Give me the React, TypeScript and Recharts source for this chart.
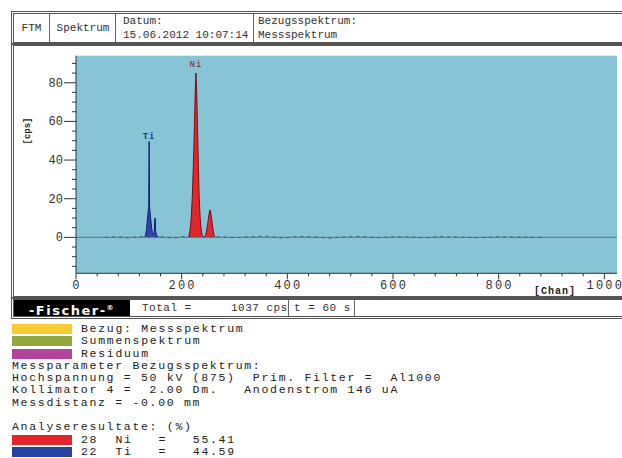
import React from 'react';
import {
  ComposedChart,
  Area,
  Line,
  XAxis,
  YAxis,
  CartesianGrid,
  ReferenceLine,
  ReferenceDot,
} from 'recharts';

// spectrum (channel -> counts per second)
const tiChannels = [129, 131.5, 133.5, 135, 136.5, 137.6, 138.4, 139.2, 140.5, 142, 143.5, 145, 146.5, 148, 149.3, 150, 150.8, 152.5, 155, 158];
const tiCounts = [0, 1, 4, 9, 13, 16, 49.5, 16, 12, 8, 4, 2, 1.5, 2.5, 9.5, 10, 3, 1, 0.5, 0];

const niChannels = [212, 214, 216, 218, 220, 222, 224, 225.5, 227, 228.5, 230, 231.5, 233, 235, 237, 239, 242, 245, 247, 249, 251, 252.5, 253.7, 255, 257, 259, 261, 263];
const niCounts = [0, 1, 4, 10, 20, 36, 56, 74, 85, 74, 56, 38, 22, 10, 4, 0.5, 0, 1, 3, 6.5, 10.5, 13, 14.2, 13, 9, 4.5, 1.5, 0];

const noiseChannels = [55, 80, 100, 120, 165, 185, 205, 270, 300, 330, 360, 390, 420, 450, 480, 510, 540, 570, 600, 630, 660, 690, 720, 760, 800, 840, 880];
const noiseCounts = [0, 0.3, -0.3, 0.4, 0.2, -0.4, 0.5, 0.3, -0.2, 0.4, 0.6, -0.3, 0.5, 0.2, -0.4, 0.3, 0.5, -0.2, 0.3, 0.2, -0.3, 0.4, 0.2, -0.2, 0.3, 0.1, 0];

const xTicks = [0, 40, 80, 120, 160, 200, 240, 280, 320, 360, 400, 440, 480, 520, 560, 600, 640, 680, 720, 760, 800, 840, 880, 920, 960, 1000];
const xLabels = [0, 200, 400, 600, 800, 1000];
const yTicks = [-15, -10, -5, 0, 5, 10, 15, 20, 25, 30, 35, 40, 45, 50, 55, 60, 65, 70, 75, 80, 85, 90];
const yLabels = [0, 20, 40, 60, 80];

const legendNames = ['Bezug: Messspektrum', 'Summenspektrum', 'Residuum'];
const legendColors = ['#f7c933', '#92a83c', '#b2449c'];

const paramLines = [
  'Messparameter Bezugsspektrum:',
  'Hochspannung = 50 kV (875)  Prim. Filter =  Al1000',
  'Kollimator 4 =  2.00 Dm.   Anodenstrom 146 uA',
  'Messdistanz = -0.00 mm',
];

const resultRows = ['28  Ni   =   55.41', '22  Ti   =   44.59'];
const resultColors = ['#e3232a', '#2743a2'];

const tiData = tiChannels.map((ch, i) => ({ ch, cps: tiCounts[i] }));
const niData = niChannels.map((ch, i) => ({ ch, cps: niCounts[i] }));
const noiseData = noiseChannels.map((ch, i) => ({ ch, cps: noiseCounts[i] }));

const mono = '"Liberation Mono", "DejaVu Sans Mono", monospace';
const frame = '3px double #555';

const YTick = ({ x, y, payload }: any) => {
  const major = yLabels.includes(payload.value);
  return (
    <g>
      <line x1={x - (major ? 12 : 4)} x2={x} y1={y} y2={y} stroke="#333" />
      {major && (
        <text x={x - 13} y={y} dy={4} textAnchor="end" fontFamily={mono} fontSize={12} fill="#333">
          {payload.value}
        </text>
      )}
    </g>
  );
};

const XTick = ({ x, y, payload }: any) => {
  const major = xLabels.includes(payload.value);
  return (
    <g>
      <line x1={x} x2={x} y1={y} y2={y + (major ? 6 : 3)} stroke="#333" />
      {major && (
        <text x={x + 1} y={y + 16} textAnchor="middle" fontFamily={mono} fontSize={12} letterSpacing={2.2} fill="#333">
          {payload.value}
        </text>
      )}
    </g>
  );
};

const cell: React.CSSProperties = {
  position: 'absolute',
  top: 0,
  bottom: 0,
  borderLeft: '1px solid #666',
  fontFamily: mono,
  fontSize: 11,
  color: '#333',
};

const row = 12.3;

export default function App() {
  return (
    <div style={{ position: 'absolute', left: 0, top: 0, width: 622, height: 458, background: '#fff', overflow: 'hidden' }}>
      {/* header row */}
      <div style={{ position: 'absolute', left: 11, top: 11, width: 640, height: 28, border: frame }}>
        <div style={{ ...cell, left: 0, width: 35, borderLeft: 'none', display: 'flex', alignItems: 'center', justifyContent: 'center' }}>FTM</div>
        <div style={{ ...cell, left: 35, width: 66, display: 'flex', alignItems: 'center', justifyContent: 'center' }}>Spektrum</div>
        <div style={{ ...cell, left: 101, width: 138, paddingLeft: 7, lineHeight: '14px' }}>
          Datum:<br />15.06.2012 10:07:14
        </div>
        <div style={{ ...cell, left: 239, width: 300, paddingLeft: 4, lineHeight: '14px' }}>
          Bezugsspektrum:<br />Messspektrum
        </div>
      </div>

      {/* chart panel */}
      <div style={{ position: 'absolute', left: 11, top: 43, width: 640, height: 250, border: frame }} />

      <div style={{ position: 'absolute', left: 0, top: 0 }}>
        <ComposedChart width={622} height={300} margin={{ top: 55.7, right: 5, left: 16, bottom: 6.7 }}>
          <CartesianGrid fill="#87c4d6" stroke="none" horizontal={false} vertical={false} />
          <XAxis
            dataKey="ch"
            type="number"
            domain={[0, 1024]}
            allowDataOverflow
            ticks={xTicks}
            interval={0}
            tick={<XTick />}
            tickSize={0}
            tickMargin={0}
            tickLine={false}
            height={20}
            axisLine={{ stroke: '#333' }}
          />
          <XAxis xAxisId="top" orientation="top" type="number" domain={[0, 1024]} tick={false} tickLine={false} height={0} axisLine={{ stroke: '#666' }} />
          <YAxis
            type="number"
            domain={[-18.6, 94]}
            allowDataOverflow
            ticks={yTicks}
            interval={0}
            tick={<YTick />}
            tickSize={0}
            tickMargin={0}
            tickLine={false}
            width={60}
            axisLine={{ stroke: '#333' }}
          />
          <YAxis yAxisId="right" orientation="right" type="number" domain={[-18.6, 94]} tick={false} tickLine={false} width={0} axisLine={{ stroke: '#222', strokeWidth: 1.5 }} />
          <ReferenceLine y={0} stroke="#6f7f86" strokeWidth={1.2} />
          <Line
            data={noiseData}
            dataKey="cps"
            type="linear"
            stroke="#3a4850"
            strokeWidth={0.8}
            strokeDasharray="3 4"
            dot={false}
            isAnimationActive={false}
          />
          <Area
            data={tiData}
            dataKey="cps"
            type="linear"
            baseValue={0}
            stroke="#14206e"
            strokeWidth={1}
            fill="#2a45b0"
            fillOpacity={1}
            isAnimationActive={false}
          />
          <Area
            data={niData}
            dataKey="cps"
            type="linear"
            baseValue={0}
            stroke="#7a0c14"
            strokeWidth={1}
            fill="#e3262c"
            fillOpacity={1}
            isAnimationActive={false}
          />
          <ReferenceDot
            x={138.4}
            y={49.5}
            r={0}
            label={{ value: 'Ti', position: 'top', offset: 3, fill: '#1f3a8a', fontFamily: mono, fontSize: 9, fontWeight: 'bold', letterSpacing: 1 }}
          />
          <ReferenceDot
            x={227}
            y={85}
            r={0}
            label={{ value: 'Ni', position: 'top', offset: 6, fill: '#7a2a30', fontFamily: mono, fontSize: 9, letterSpacing: 1 }}
          />
        </ComposedChart>
      </div>

      {/* axis titles */}
      <div style={{ position: 'absolute', left: 8, top: 126, width: 40, textAlign: 'center', transform: 'rotate(-90deg)', fontFamily: mono, fontSize: 9, fontWeight: 'bold', color: '#222' }}>
        [cps]
      </div>
      <div style={{ position: 'absolute', left: 534, top: 286, fontFamily: mono, fontSize: 10, fontWeight: 'bold', letterSpacing: 1, color: '#222' }}>
        [Chan]
      </div>

      {/* footer row */}
      <div style={{ position: 'absolute', left: 11, top: 297, width: 640, height: 16, border: frame, fontFamily: mono, fontSize: 11, color: '#333' }}>
        <div style={{ position: 'absolute', left: 0, top: 0, width: 116, height: 16, background: '#000', color: '#fff', fontFamily: '"DejaVu Sans", sans-serif', fontWeight: 'bold', fontSize: 13, lineHeight: '16px', letterSpacing: 1.5, textAlign: 'center' }}>
          -Fischer-<sup style={{ fontSize: 7 }}>®</sup>
        </div>
        <div style={{ position: 'absolute', left: 128, top: 0, lineHeight: '16px', letterSpacing: 0.5 }}>Total =</div>
        <div style={{ position: 'absolute', left: 217, top: 0, lineHeight: '16px', letterSpacing: 0.5 }}>1037 cps</div>
        <div style={{ position: 'absolute', left: 274, top: 0, height: 16, borderLeft: '1px solid #666' }} />
        <div style={{ position: 'absolute', left: 280, top: 0, lineHeight: '16px', letterSpacing: 0.5 }}>t = 60 s</div>
        <div style={{ position: 'absolute', left: 340, top: 0, height: 16, borderLeft: '1px solid #666' }} />
      </div>

      {/* legend and parameters */}
      <div style={{ position: 'absolute', left: 12, top: 323, fontFamily: mono, fontSize: 11.5, letterSpacing: 1.7, lineHeight: `${row}px`, color: '#222', whiteSpace: 'pre' }}>
        {legendNames.map((name, i) => (
          <div key={name} style={{ position: 'relative', height: row }}>
            <span style={{ position: 'absolute', left: 0, top: 1, width: 60, height: 10, background: legendColors[i] }} />
            <span style={{ position: 'absolute', left: 69 }}>{name}</span>
          </div>
        ))}
        {paramLines.map((line) => (
          <div key={line} style={{ height: row }}>{line}</div>
        ))}
        <div style={{ height: row }} />
        <div style={{ height: row }}>Analyseresultate: (%)</div>
        {resultRows.map((r, i) => (
          <div key={r} style={{ position: 'relative', height: row }}>
            <span style={{ position: 'absolute', left: 0, top: 1, width: 60, height: 10, background: resultColors[i] }} />
            <span style={{ position: 'absolute', left: 69 }}>{r}</span>
          </div>
        ))}
      </div>
    </div>
  );
}
